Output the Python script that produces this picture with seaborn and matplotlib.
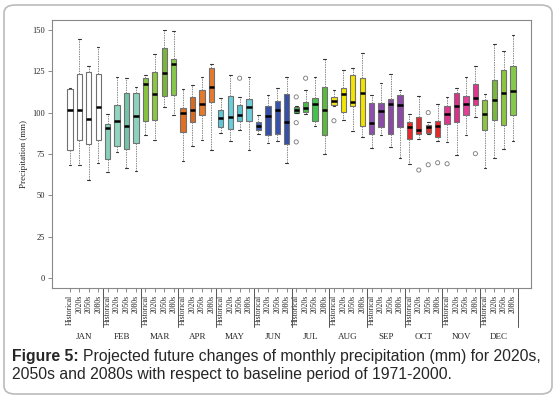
import numpy as np
import pandas as pd
import seaborn as sns
import matplotlib.pyplot as plt
from matplotlib.patches import FancyBboxPatch
import matplotlib.transforms as mtransforms

# Monthly precipitation boxplots
months = ["JAN", "FEB", "MAR", "APR", "MAY", "JUN", "JUL", "AUG", "SEP", "OCT", "NOV", "DEC"]
periods = ["Historical", "2020s", "2050s", "2080s"]

# per box, month by month (Historical, 2020s, 2050s, 2080s)
low = [68.3, 68.3, 59.3, 69.7,  64.3, 76.4, 66.3, 64.7,  86.5, 83.3, 103.6, 98.6,
       70.8, 80.0, 83.5, 77.4,  87.5, 82.9, 89.3, 77.4,  87.1, 81.5, 83.1, 69.4,
       99.6, 99.0, 92.1, 75.0,  104.0, 95.6, 88.9, 85.1,  78.9, 86.5, 79.0, 72.8,
       68.9, 83.9, 87.1, 82.7,  82.1, 74.4, 86.5, 97.4,  66.3, 72.4, 78.0, 82.9]
q1 = [77.2, 83.3, 81.0, 83.3,  71.8, 80.0, 78.2, 81.6,  95.0, 95.7, 109.9, 110.5,
      88.3, 94.3, 98.4, 106.3,  91.5, 89.9, 95.1, 94.8,  89.5, 86.3, 87.1, 80.8,
      100.0, 100.2, 94.8, 86.7,  104.4, 100.6, 104.0, 91.9,  86.9, 91.1, 86.9, 91.1,
      84.0, 86.9, 87.9, 85.1,  93.0, 94.2, 98.4, 104.6,  89.3, 95.4, 92.5, 98.8]
med = [101.8, 101.4, 96.0, 103.2,  90.7, 95.0, 92.1, 98.0,  117.1, 111.1, 124.0, 129.2,
       99.6, 101.6, 105.4, 115.5,  97.0, 97.2, 98.8, 103.6,  91.9, 98.2, 101.6, 94.3,
       101.6, 102.8, 105.2, 101.6,  107.2, 111.5, 106.6, 111.7,  93.7, 101.0, 105.2, 104.6,
       91.1, 89.5, 91.1, 91.7,  99.0, 104.0, 105.2, 108.7,  99.0, 107.6, 111.7, 112.9]
q3 = [114.1, 123.2, 124.4, 123.2,  93.0, 104.4, 111.7, 111.7,  120.8, 124.8, 138.9, 132.4,
      102.6, 109.5, 113.5, 127.2,  101.6, 110.1, 104.6, 108.3,  94.2, 104.0, 107.0, 111.1,
      103.2, 106.6, 108.9, 115.5,  109.5, 114.7, 122.8, 120.8,  106.0, 106.0, 108.1, 110.7,
      94.6, 97.2, 92.5, 95.0,  104.0, 111.7, 110.1, 117.3,  107.5, 119.5, 125.6, 128.0]
high = [114.7, 144.4, 128.4, 139.5,  99.0, 121.4, 120.8, 115.3,  122.8, 135.5, 150.0, 149.4,
        114.3, 116.7, 121.8, 129.2,  108.7, 122.8, 109.5, 121.4,  98.6, 110.9, 114.9, 121.4,
        104.0, 113.7, 121.8, 132.4,  113.5, 125.6, 127.2, 136.3,  110.7, 117.7, 123.2, 113.7,
        99.2, 110.3, 94.6, 105.0,  109.3, 114.7, 121.8, 128.4,  111.1, 141.5, 137.5, 147.0]

outlier_box = [18, 24, 24, 24, 25, 28, 37, 38, 38, 39, 40, 43]
outlier_val = [120.8, 109.5, 93.9, 82.3, 120.8, 95.1, 65.3, 100.0, 68.5, 69.7, 69.1, 75.2]

box_colors = [
    "#ffffff", "#ffffff", "#ffffff", "#ffffff",
    "#86d0bb", "#8fd5c0", "#74c4aa", "#8cd3be",
    "#86c440", "#8dc63f", "#79b53a", "#86c94a",
    "#e07026", "#d86a22", "#e47a2c", "#e57a2e",
    "#5ec9d6", "#66cfdb", "#58c4cf", "#6ccfdb",
    "#3d5fc0", "#3550a8", "#3652ac", "#3450a8",
    "#3fae49", "#4cb848", "#45c24e", "#5abb3e",
    "#f5e41a", "#f2e600", "#f4e400", "#f2e200",
    "#8e4fae", "#8a4aa8", "#8b48a8", "#8a4aa6",
    "#e82a2a", "#e62828", "#e8302a", "#e62a2a",
    "#e0358f", "#de2f8a", "#e53e98", "#e0358f",
    "#8cc63f", "#7ab83c", "#8cc63f", "#86c94a",
]

labels = [f"{m} {p}" for m in months for p in periods]
rows = []
for i, lab in enumerate(labels):
    for v in (low[i], q1[i], med[i], q3[i], high[i]):
        rows.append({"box": lab, "value": v})
df = pd.DataFrame(rows)

sns.set_theme(style="white")
plt.rcParams["font.family"] = ["Liberation Serif", "DejaVu Serif"]

W, H = 560, 399
fig = plt.figure(figsize=(W / 100, H / 100), dpi=100)
ax = fig.add_axes([52 / W, 1 - 288 / H, (531 - 52) / W, (288 - 20) / H])

sns.boxplot(data=df, x="box", y="value", hue="box", order=labels, hue_order=labels,
            palette=box_colors, saturation=1, dodge=False, width=0.55, whis=(0, 100),
            linecolor="#707070", linewidth=0.8, legend=False, showfliers=False,
            medianprops=dict(color="black", linewidth=1.8),
            whiskerprops=dict(color="#8a8a8a", linestyle=(0, (1.5, 1)), linewidth=0.7),
            capprops=dict(color="#333333", linewidth=0.8), ax=ax)

ax.scatter(outlier_box, outlier_val, facecolors="none", edgecolors="#777777", s=9, linewidths=0.6, zorder=5)

ax.set_xlim(-1.9, 48.9)
ax.set_ylim(-6, 156)
ax.set_yticks([0, 25, 50, 75, 100, 125, 150])
ax.set_yticklabels(["0", "25", "50", "75", "100", "125", "150"], fontsize=6)
ax.set_xticks(range(len(labels)))
ax.set_xticklabels(periods * len(months), rotation=90, fontsize=5.5)
ax.tick_params(axis="both", direction="out", length=3, width=0.6, color="#777777", pad=2,
               bottom=True, left=True)
ax.set_xlabel("")
ax.set_ylabel("Precipitation (mm)", fontsize=6.5, labelpad=3)
for s in ax.spines.values():
    s.set_color("#888888")
    s.set_linewidth(0.8)

# month separators and names
trans = mtransforms.blended_transform_factory(ax.transData, ax.transAxes)
for k in range(len(months)):
    ax.plot([4 * k + 3.5, 4 * k + 3.5], [0, -39 / 268], color="#555555", lw=0.7,
            transform=trans, clip_on=False)
    ax.text(4 * k + 1.5, -49 / 268, months[k], transform=trans, ha="center", va="center",
            fontsize=6.5)

# caption
cap_font = ["Liberation Sans", "DejaVu Sans"]
cap_size = 11.3
t = fig.text(12 / W, 1 - 356 / H, "Figure 5:", fontsize=cap_size, fontweight="bold",
             family=cap_font, va="center")
fig.canvas.draw()
bb = t.get_window_extent()
fig.text(bb.x1 / W + 4 / W, 1 - 356 / H,
         "Projected future changes of monthly precipitation (mm) for 2020s,",
         fontsize=cap_size, family=cap_font, va="center")
fig.text(12 / W, 1 - 375 / H, "2050s and 2080s with respect to baseline period of 1971-2000.",
         fontsize=cap_size, family=cap_font, va="center")

# rounded outer frame
frame = FancyBboxPatch((4 / W, 5 / H), 548 / W, 389 / H,
                       boxstyle="round,pad=0,rounding_size=0.02",
                       transform=fig.transFigure, facecolor="none",
                       edgecolor="#bbbbbb", linewidth=1.2)
fig.patches.append(frame)

fig.savefig("out.png", dpi=100)
